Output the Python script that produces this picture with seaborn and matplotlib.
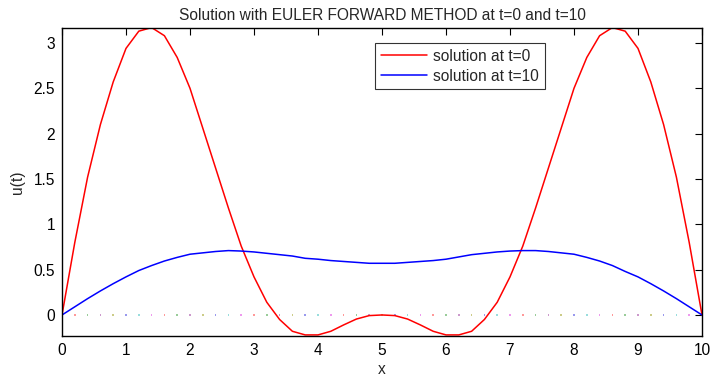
import numpy as np
import pandas as pd
import matplotlib
matplotlib.use("Agg")
import matplotlib.pyplot as plt
import seaborn as sns

# grid x = 0:0.2:10
x_grid = np.round(np.arange(0, 10.0001, 0.2), 1)

# solution at t=0
u_t0 = [0.00, 0.80, 1.52, 2.10, 2.57, 2.94, 3.13, 3.17, 3.08, 2.84,
        2.50, 2.06, 1.62, 1.18, 0.76, 0.42, 0.14, -0.05, -0.18, -0.22,
        -0.22, -0.18, -0.11, -0.045, -0.007, 0.00, -0.007, -0.045, -0.11, -0.18,
        -0.22, -0.22, -0.18, -0.05, 0.14, 0.42, 0.76, 1.18, 1.62, 2.06,
        2.50, 2.84, 3.08, 3.17, 3.13, 2.94, 2.57, 2.10, 1.52, 0.80,
        0.00]

# solution at t=10
u_t10 = [0.00, 0.09, 0.18, 0.265, 0.345, 0.42, 0.49, 0.545, 0.595, 0.635,
         0.67, 0.685, 0.70, 0.71, 0.705, 0.695, 0.68, 0.665, 0.65, 0.625,
         0.615, 0.60, 0.59, 0.58, 0.57, 0.57, 0.57, 0.58, 0.59, 0.60,
         0.615, 0.64, 0.665, 0.68, 0.695, 0.705, 0.71, 0.71, 0.70, 0.685,
         0.67, 0.635, 0.595, 0.545, 0.48, 0.42, 0.345, 0.265, 0.18, 0.09,
         0.00]

# faint dots along u=0 at the inner grid points
dot_colors = ["#ff9999", "#99cc99", "#cc99cc", "#cccc88", "#9999ee", "#99dddd", "#ee99ee"]

sns.set_theme(style="white")
plt.rcParams['font.family'] = ['Liberation Sans', 'DejaVu Sans']

fig = plt.figure(figsize=(7.12, 3.82), dpi=100)
ax = fig.add_axes([62 / 712, 46 / 382, 640 / 712, 308 / 382])

df = pd.DataFrame({"x": x_grid, "t0": u_t0, "t10": u_t10})

inner = x_grid[1:-1]
ax.scatter(inner, np.zeros(len(inner)), s=1.5, marker="s", linewidths=0,
           c=[dot_colors[i % len(dot_colors)] for i in range(len(inner))], zorder=1)

sns.lineplot(data=df, x="x", y="t0", ax=ax, color="#ff0000", lw=1.1,
             estimator=None, sort=False, label="solution at t=0")
sns.lineplot(data=df, x="x", y="t10", ax=ax, color="#0000ff", lw=1.1,
             estimator=None, sort=False, label="solution at t=10")

fs = 11.2
ax.set_xlim(0, 10)
ax.set_ylim(-0.232, 3.165)
ax.set_xticks(range(0, 11))
ax.set_yticks([0, 0.5, 1, 1.5, 2, 2.5, 3])
ax.set_yticklabels(["0", "0.5", "1", "1.5", "2", "2.5", "3"])
ax.tick_params(direction="in", length=5, width=0.8, top=True, right=True,
               labelsize=fs, colors="black", pad=5)
for s in ax.spines.values():
    s.set_visible(True)
    s.set_color("black")
    s.set_linewidth(1.0)

ax.set_xlabel("x", fontsize=fs, labelpad=3)
ax.set_ylabel("u(t)", fontsize=fs, labelpad=6)
ax.set_title("Solution with EULER FORWARD METHOD at t=0 and t=10", fontsize=fs, pad=6)

leg = ax.legend(loc="upper left", bbox_to_anchor=(0.477, 0.975), frameon=True,
                fancybox=False, edgecolor="black", fontsize=fs,
                handlelength=3.0, borderpad=0.35, labelspacing=0.3,
                handletextpad=0.4)
leg.get_frame().set_linewidth(0.8)

fig.savefig("out.png", dpi=100, facecolor="white")
